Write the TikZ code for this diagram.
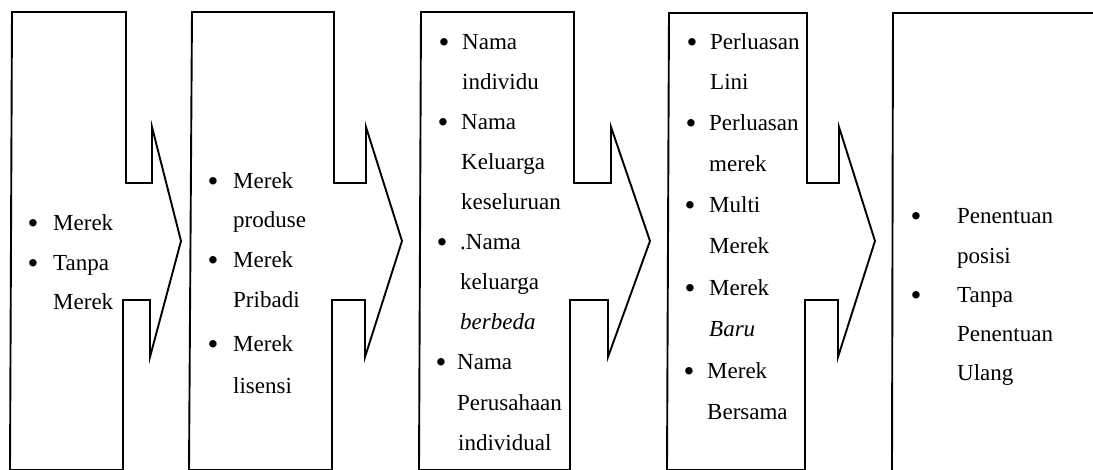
\documentclass[tikz,border=0pt]{standalone}
\usepackage{fontspec}
\setmainfont{Liberation Serif}
\begin{document}
\begin{tikzpicture}[x=1pt,y=-1pt,
  outline/.style={draw, line width=1.9pt, line join=miter},
  txt/.style={anchor=base west, inner sep=0pt, font=\fontsize{23}{27}\selectfont},
  bul/.style={anchor=base, inner sep=0pt, yshift=-2.5pt, font=\fontsize{31}{33}\selectfont}]
\useasboundingbox (0,0) rectangle (1093,470);
% box outlines with arrow notches
\draw[outline] (10,470) -- (12,12) -- (126,12) -- (126,183) -- (152,183) -- (152,127) -- (181,241) -- (150,357) -- (150,300) -- (123,300) -- (123,470) -- cycle;
\draw[outline] (189,470) -- (192,12) -- (334,12) -- (334,183) -- (366,183) -- (366,127) -- (402,241) -- (365,357) -- (365,300) -- (332,300) -- (332,470) -- cycle;
\draw[outline] (419,470) -- (421,12) -- (574,12) -- (574,183) -- (611,183) -- (611,127) -- (650,241) -- (608,357) -- (608,300) -- (570,300) -- (570,470) -- cycle;
\draw[outline] (667,470) -- (669,13) -- (807,13) -- (807,183) -- (839,183) -- (839,127) -- (875,241) -- (838,357) -- (838,300) -- (805,300) -- (805,470) -- cycle;
\draw[outline] (892,470) -- (893,13) -- (1096,13);
% box 1
\node[bul] (b1d1) at (33,231) {\textbullet};
\node[txt] (b1t1) at (53,231) {Merek};
\node[bul] (b1d2) at (33,271) {\textbullet};
\node[txt] (b1t2) at (53,271) {Tanpa};
\node[txt] (b1t3) at (53,310) {Merek};
% box 2
\node[bul] (b2d1) at (213,189) {\textbullet};
\node[txt] (b2t1) at (233,189) {Merek};
\node[txt] (b2t2) at (233,228) {produse};
\node[bul] (b2d2) at (213,268) {\textbullet};
\node[txt] (b2t3) at (233,268) {Merek};
\node[txt] (b2t4) at (233,308) {Pribadi};
\node[bul] (b2d3) at (213,352) {\textbullet};
\node[txt] (b2t5) at (233,352) {Merek};
\node[txt] (b2t6) at (233,393) {lisensi};
% box 3
\node[bul] (b3d1) at (444,50) {\textbullet};
\node[txt] (b3t1) at (462,50) {Nama};
\node[txt] (b3t2) at (462,90) {individu};
\node[bul] (b3d2) at (443,130) {\textbullet};
\node[txt] (b3t3) at (461,130) {Nama};
\node[txt] (b3t4) at (461,170) {Keluarga};
\node[txt] (b3t5) at (461,210) {keseluruan};
\node[bul] (b3d3) at (442,250) {\textbullet};
\node[txt] (b3t6) at (460,250) {.Nama};
\node[txt] (b3t7) at (460,290) {keluarga};
\node[txt] (b3t8) at (460,330) {\itshape berbeda};
\node[bul] (b3d4) at (441,370) {\textbullet};
\node[txt] (b3t9) at (457,370) {Nama};
\node[txt] (b3t10) at (457,410) {Perusahaan};
\node[txt] (b3t11) at (458,450) {individual};
% box 4
\node[bul] (b4d1) at (692,50) {\textbullet};
\node[txt] (b4t1) at (710,50) {Perluasan};
\node[txt] (b4t2) at (710,90) {Lini};
\node[bul] (b4d2) at (691,131) {\textbullet};
\node[txt] (b4t3) at (709,131) {Perluasan};
\node[txt] (b4t4) at (709,172) {merek};
\node[bul] (b4d3) at (690,213) {\textbullet};
\node[txt] (b4t5) at (709,213) {Multi};
\node[txt] (b4t6) at (709,254) {Merek};
\node[bul] (b4d4) at (690,296) {\textbullet};
\node[txt] (b4t7) at (709,296) {Merek};
\node[txt] (b4t8) at (709,337) {\itshape Baru};
\node[bul] (b4d5) at (689,379) {\textbullet};
\node[txt] (b4t9) at (707,379) {Merek};
\node[txt] (b4t10) at (707,420) {Bersama};
% box 5
\node[bul] (b5d1) at (916,224) {\textbullet};
\node[txt] (b5t1) at (957,224) {Penentuan};
\node[txt] (b5t2) at (957,264) {posisi};
\node[bul] (b5d2) at (916,303) {\textbullet};
\node[txt] (b5t3) at (957,303) {Tanpa};
\node[txt] (b5t4) at (957,342) {Penentuan};
\node[txt] (b5t5) at (957,381) {Ulang};
\end{tikzpicture}
\end{document}
